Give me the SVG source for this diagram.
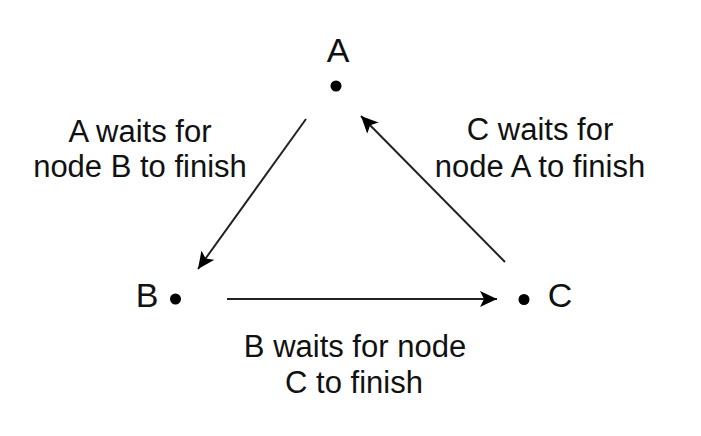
<svg xmlns="http://www.w3.org/2000/svg" width="701" height="436" viewBox="0 0 701 436">
<style>
text{font-family:"Liberation Sans",Arial,sans-serif;fill:#111;text-anchor:middle}
.node{font-size:34px}
.lbl{font-size:31px}
.edge{stroke:#222;stroke-width:2;fill:none;marker-end:url(#ah)}
.dot{fill:#000}
</style>
<defs>
<marker id="ah" markerWidth="18" markerHeight="16" refX="17" refY="8" orient="auto" markerUnits="userSpaceOnUse">
<path d="M0,0 L17,8 L0,16 L4,8 Z" fill="#000"/>
</marker>
</defs>
<rect width="701" height="436" fill="#fff"/>
<g id="connectors">
<line class="edge" x1="306" y1="119" x2="198" y2="269"/>
<line class="edge" x1="505" y1="262" x2="361" y2="116"/>
<line class="edge" x1="227" y1="299" x2="497" y2="299"/>
<text class="lbl" x="140" y="142">A waits for</text>
<text class="lbl" x="140" y="177">node B to finish</text>
<text class="lbl" x="540" y="140">C waits for</text>
<text class="lbl" x="540" y="177">node A to finish</text>
<text class="lbl" x="355" y="357">B waits for node</text>
<text class="lbl" x="354" y="393">C to finish</text>
</g>
<g id="nodeA">
<text class="node" x="338" y="62">A</text>
<circle class="dot" cx="336" cy="86" r="5.5"/>
</g>
<g id="nodeB">
<text class="node" x="147" y="307">B</text>
<circle class="dot" cx="175.5" cy="299" r="5.5"/>
</g>
<g id="nodeC">
<text class="node" x="560" y="307">C</text>
<circle class="dot" cx="524" cy="299.5" r="5.5"/>
</g>
</svg>
